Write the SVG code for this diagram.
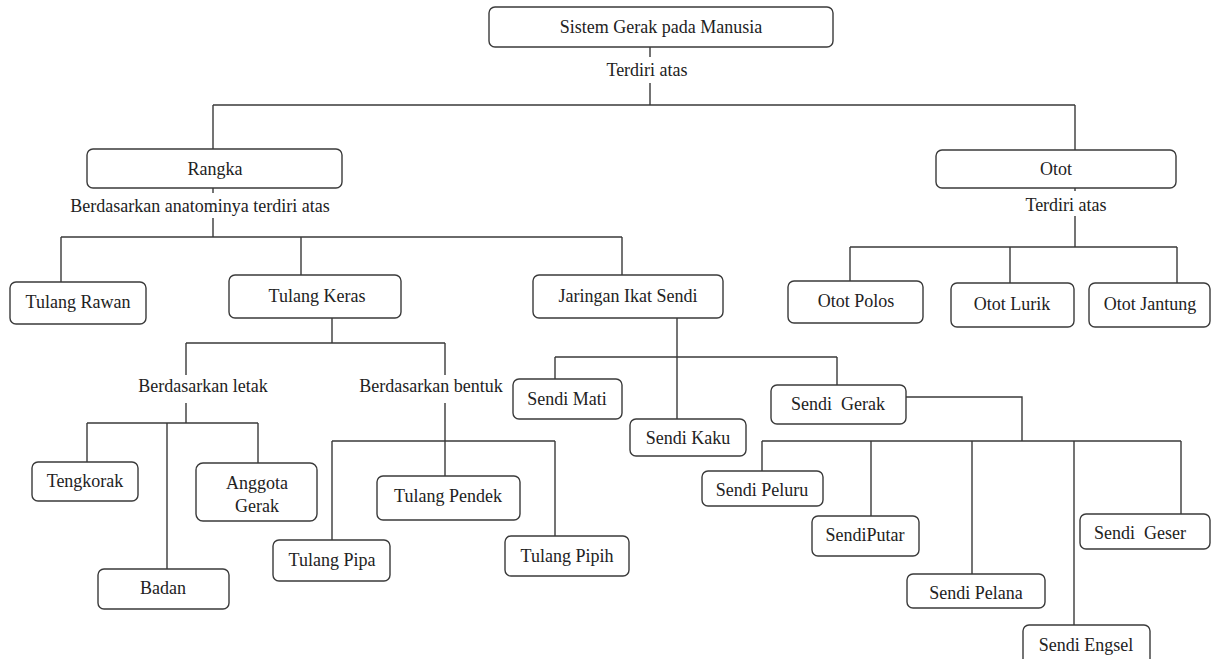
<svg xmlns="http://www.w3.org/2000/svg" width="1211" height="659" viewBox="0 0 1211 659">
<style>
.b{fill:#fff;stroke:#3a3a3a;stroke-width:1.4}
.t{font-family:"Liberation Serif","Times New Roman",serif;font-size:18px;fill:#222;text-anchor:middle}
.c{fill:none;stroke:#3a3a3a;stroke-width:1.4}
</style>
<rect width="1211" height="659" fill="#fff"/>
<g id="connectors" class="c">
<path d="M650 47V57M650 83V105M213 105H1075M213 105V149M1075 105V150"/>
<path d="M213 188V193M213 218V237M61 237H622M61 237V282M301 237V275M622 237V275"/>
<path d="M1075 188V191M1075 216V247M850 247H1177M850 247V281M1010 247V283M1177 247V283"/>
<path d="M332 318V343M186 343H445M186 343V375M186 403V423M445 343V375M445 403V476M87 423H258M87 423V462M167 423V569M258 423V463"/>
<path d="M332 441H555M332 441V540M555 441V536"/>
<path d="M677 318V419M555 357H837M555 357V379M837 357V385"/>
<path d="M906 397H1022V441M762 441H1181M762 441V471M871 441V516M972 441V574M1074 441V625M1181 441V514"/>
</g>
<g id="n-root"><rect class="b" x="489" y="7" width="344" height="40" rx="6"/><text class="t" x="661" y="33">Sistem Gerak pada Manusia</text></g>
<g id="l-terdiri1"><text class="t" x="647" y="76">Terdiri atas</text></g>
<g id="n-rangka"><rect class="b" x="87" y="149" width="255" height="39" rx="6"/><text class="t" x="215" y="175">Rangka</text></g>
<g id="l-anatomi"><text class="t" x="200" y="212">Berdasarkan anatominya terdiri atas</text></g>
<g id="n-otot"><rect class="b" x="936" y="150" width="240" height="38" rx="6"/><text class="t" x="1056" y="175">Otot</text></g>
<g id="l-terdiri2"><text class="t" x="1066" y="211">Terdiri atas</text></g>
<g id="n-rawan"><rect class="b" x="10" y="282" width="136" height="42" rx="6"/><text class="t" x="78" y="308">Tulang Rawan</text></g>
<g id="n-keras"><rect class="b" x="229" y="275" width="172" height="43" rx="6"/><text class="t" x="317" y="302">Tulang Keras</text></g>
<g id="n-jaringan"><rect class="b" x="533" y="275" width="190" height="43" rx="6"/><text class="t" x="628" y="302">Jaringan Ikat Sendi</text></g>
<g id="n-polos"><rect class="b" x="788" y="281" width="135" height="42" rx="6"/><text class="t" x="856" y="307">Otot Polos</text></g>
<g id="n-lurik"><rect class="b" x="951" y="283" width="123" height="44" rx="6"/><text class="t" x="1012" y="310">Otot Lurik</text></g>
<g id="n-jantung"><rect class="b" x="1089" y="283" width="121" height="44" rx="6"/><text class="t" x="1150" y="310">Otot Jantung</text></g>
<g id="l-letak"><text class="t" x="203" y="392">Berdasarkan letak</text></g>
<g id="l-bentuk"><text class="t" x="431" y="392">Berdasarkan bentuk</text></g>
<g id="n-mati"><rect class="b" x="513" y="379" width="109" height="40" rx="6"/><text class="t" x="567" y="405">Sendi Mati</text></g>
<g id="n-kaku"><rect class="b" x="630" y="419" width="116" height="37" rx="6"/><text class="t" x="688" y="444">Sendi Kaku</text></g>
<g id="n-gerak"><rect class="b" x="771" y="385" width="135" height="39" rx="6"/><text class="t" x="838" y="410" xml:space="preserve">Sendi  Gerak</text></g>
<g id="n-tengkorak"><rect class="b" x="32" y="462" width="106" height="39" rx="6"/><text class="t" x="85" y="487">Tengkorak</text></g>
<g id="n-anggota"><rect class="b" x="196" y="463" width="121" height="58" rx="7"/><text class="t" x="257" y="489">Anggota</text><text class="t" x="257" y="512">Gerak</text></g>
<g id="n-badan"><rect class="b" x="98" y="569" width="131" height="40" rx="6"/><text class="t" x="163" y="594">Badan</text></g>
<g id="n-pendek"><rect class="b" x="377" y="476" width="143" height="44" rx="6"/><text class="t" x="448" y="502">Tulang Pendek</text></g>
<g id="n-pipa"><rect class="b" x="273" y="540" width="117" height="41" rx="6"/><text class="t" x="332" y="566">Tulang Pipa</text></g>
<g id="n-pipih"><rect class="b" x="505" y="536" width="124" height="40" rx="6"/><text class="t" x="567" y="562">Tulang Pipih</text></g>
<g id="n-peluru"><rect class="b" x="702" y="471" width="121" height="35" rx="6"/><text class="t" x="762" y="496">Sendi Peluru</text></g>
<g id="n-putar"><rect class="b" x="812" y="516" width="107" height="40" rx="6"/><text class="t" x="865" y="541">SendiPutar</text></g>
<g id="n-pelana"><rect class="b" x="907" y="574" width="138" height="34" rx="6"/><text class="t" x="976" y="599">Sendi Pelana</text></g>
<g id="n-engsel"><rect class="b" x="1023" y="625" width="127" height="40" rx="6"/><text class="t" x="1086" y="651">Sendi Engsel</text></g>
<g id="n-geser"><rect class="b" x="1080" y="514" width="130" height="35" rx="6"/><text class="t" x="1140" y="539" xml:space="preserve">Sendi  Geser</text></g>
</svg>
